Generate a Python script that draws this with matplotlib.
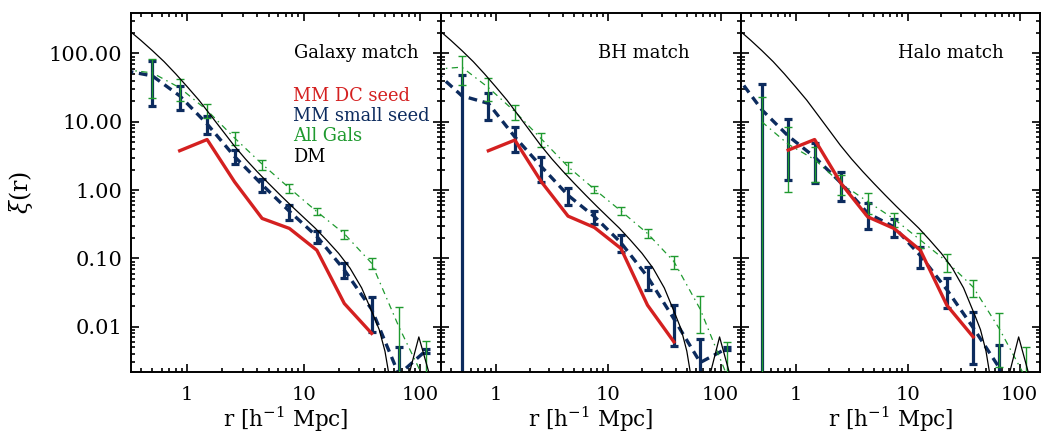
import numpy as np
import matplotlib
matplotlib.use('Agg')
import matplotlib.pyplot as plt
from matplotlib.ticker import LogLocator, FuncFormatter, NullFormatter

plt.rcParams.update({
    'font.family': 'DejaVu Serif',
    'mathtext.fontset': 'dejavuserif',
    'font.size': 14,
    'axes.linewidth': 1.4,
})

nan = np.nan

# -------------------------------------------------
# data
# -------------------------------------------------
r_bins = [0.29, 0.5, 0.86, 1.48, 2.55, 4.4, 7.55, 13, 22.4, 38.5, 66, 113]

# dark matter xi(r), same in every panel
dm_r = [0.3, 0.398, 0.501, 0.631, 0.794, 1.0, 1.26, 1.58, 2.0, 2.51, 3.16, 3.98,
        5.01, 6.31, 7.94, 10, 12.6, 15.8, 20, 25.1, 31.6, 39.8, 44.7, 50.1, 53.7,
        57.5, 80, 98, 122, 150]
dm_xi = [234, 156, 110, 76, 50.4, 32.5, 20.7, 12.6, 7.5, 4.54, 2.86, 1.87,
         1.25, 0.845, 0.578, 0.40, 0.277, 0.185, 0.119, 0.072, 0.037, 0.0148, 0.0091,
         0.0044, 0.0022, 0.001, 0.0019, 0.0071, 0.0019, 0.001]

# MM DC seed
red_gal = [nan, nan, 3.77, 5.5, 1.32, 0.385, 0.275, 0.132, 0.0219, 0.008, nan, nan]
red_bh = [nan, nan, 3.77, 5.4, 1.32, 0.416, 0.284, 0.14, 0.0207, 0.006, nan, nan]
red_halo = [nan, nan, 3.85, 5.5, 1.25, 0.407, 0.275, 0.132, 0.0207, 0.0071, nan, nan]

# MM small seed
blue_gal = [56, 47, 24, 9.3, 3.1, 1.2, 0.49, 0.21, 0.068, 0.018, 0.002, 0.0045]
blue_gal_err = [0, 30, 9, 2.7, 0.72, 0.27, 0.12, 0.043, 0.017, 0.0095, 0.0031, 0.0003]
blue_bh = [54, 24, 18.6, 6.0, 2.2, 0.84, 0.41, 0.17, 0.054, 0.013, 0.003, 0.0048]
blue_bh_err = [0, 24, 8, 2.4, 0.87, 0.24, 0.087, 0.047, 0.02, 0.0078, 0.0037, 0.0003]
blue_halo = [50, 15, 6.2, 3.05, 1.27, 0.46, 0.29, 0.11, 0.035, 0.0097, 0.0025, nan]
blue_halo_err = [0, 20.6, 4.8, 1.77, 0.58, 0.19, 0.086, 0.038, 0.016, 0.0068, 0.0029, 0]

# All Gals
green_gal = [58, 52, 31.5, 14.7, 5.8, 2.4, 1.07, 0.485, 0.23, 0.085, 0.01, 0.0015]
green_gal_err = [0, 30, 11.5, 3.5, 1.2, 0.4, 0.15, 0.055, 0.035, 0.016, 0.0096, 0.0047]
green_bh = [59, 63, 31.7, 14.1, 5.6, 2.2, 1.03, 0.495, 0.232, 0.09, 0.018, 0.002]
green_bh_err = [0, 29, 11.4, 3.5, 1.3, 0.4, 0.13, 0.065, 0.036, 0.02, 0.01, 0.0039]
green_halo = [nan, 10, 4.7, 2.8, 1.25, 0.68, 0.38, 0.186, 0.09, 0.038, 0.0093, 0.0018]
green_halo_err = [0, 12.8, 3.75, 1.5, 0.41, 0.23, 0.088, 0.046, 0.026, 0.0103, 0.0067, 0.0033]

titles = ["Galaxy match", "BH match", "Halo match"]
legend_labels = ["MM DC seed", "MM small seed", "All Gals", "DM"]

RED = '#d42020'
NAVY = '#0c2b5e'
GREEN = '#1f9a2f'

# -------------------------------------------------
# figure
# -------------------------------------------------
W, H = 1042, 436
fig = plt.figure(figsize=(W / 100, H / 100), dpi=100)

edges = [130.7, 441, 741, 1040]
bottom = (H - 371.7) / H
height = (371.7 - 12.7) / H

series = [
    (red_gal, blue_gal, blue_gal_err, green_gal, green_gal_err),
    (red_bh, blue_bh, blue_bh_err, green_bh, green_bh_err),
    (red_halo, blue_halo, blue_halo_err, green_halo, green_halo_err),
]

for i, (red, blue, blue_err, green, green_err) in enumerate(series):
    ax = fig.add_axes([edges[i] / W, bottom, (edges[i + 1] - edges[i]) / W, height])
    ax.set_xscale('log')
    ax.set_yscale('log')

    ax.plot(r_bins, blue, color=NAVY, lw=2.4, dashes=(2.6, 1.7), zorder=2)
    ax.errorbar(r_bins, blue, yerr=blue_err, fmt='none', ecolor=NAVY,
                elinewidth=2.3, capsize=2.8, capthick=2.3, zorder=2)
    ax.plot(r_bins, green, color=GREEN, lw=0.9, dashes=(5, 3.5, 1.2, 3.5), zorder=3)
    ax.errorbar(r_bins, green, yerr=green_err, fmt='none', ecolor=GREEN,
                elinewidth=1.0, capsize=3.2, capthick=1.0, zorder=3)
    ax.plot(r_bins, red, color=RED, lw=2.4, zorder=4)
    ax.plot(dm_r, dm_xi, color='k', lw=0.9, zorder=5)

    ax.set_xlim(0.326, 152)
    ax.set_ylim(0.0022, 395)

    ax.xaxis.set_major_locator(LogLocator(base=10))
    ax.xaxis.set_minor_locator(LogLocator(base=10, subs=np.arange(2, 10)))
    ax.yaxis.set_major_locator(LogLocator(base=10))
    ax.yaxis.set_minor_locator(LogLocator(base=10, subs=np.arange(2, 10)))
    ax.xaxis.set_major_formatter(FuncFormatter(lambda v, p: '%g' % v))
    ax.xaxis.set_minor_formatter(NullFormatter())
    ax.yaxis.set_minor_formatter(NullFormatter())
    if i == 0:
        ax.yaxis.set_major_formatter(FuncFormatter(lambda v, p: '%.2f' % v))
        ax.set_ylabel(r'$\xi$(r)', fontsize=17, labelpad=10)
    else:
        ax.yaxis.set_major_formatter(NullFormatter())

    ax.tick_params(which='both', direction='in', top=True, right=True, width=1.2)
    ax.tick_params(which='major', length=6)
    ax.tick_params(which='minor', length=3)
    ax.tick_params(axis='x', which='major', pad=10, labelsize=14)
    ax.tick_params(axis='y', which='major', pad=6, labelsize=15)

    ax.set_xlabel(r'r [h$^{-1}$ Mpc]', fontsize=15.5, labelpad=1)

    ax.text(0.525, 0.888, titles[i], transform=ax.transAxes, fontsize=13, va='center')

    if i == 0:
        for lab, col, y in zip(legend_labels, [RED, NAVY, GREEN, 'k'],
                               [0.768, 0.712, 0.657, 0.599]):
            ax.text(0.524, y, lab, color=col, transform=ax.transAxes,
                    fontsize=12.8, va='center')

plt.savefig('out.png', dpi=100)
